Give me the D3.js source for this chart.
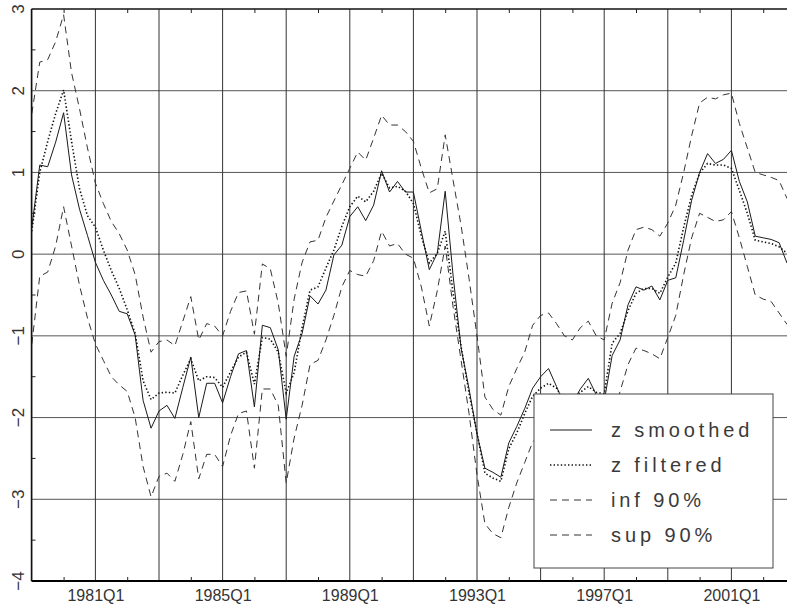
<!DOCTYPE html>
<html>
<head>
<meta charset="utf-8">
<script src="https://cdn.jsdelivr.net/npm/d3@7"></script>
<style>
  html, body { margin: 0; padding: 0; background: #fff; }
  svg { display: block; }
</style>
</head>
<body>
<svg id="chart" width="787" height="612"></svg>
<script>
// ---------- data (quarterly, 1979Q1 .. 2002Q4) ----------
const startYear = 1979;
const smoothed = [
  0.33, 1.09, 1.07, 1.37, 1.73, 0.97, 0.55, 0.23,
  -0.10, -0.32, -0.50, -0.70, -0.73, -0.99, -1.79, -2.13,
  -1.92, -1.85, -2.01, -1.63, -1.26, -2.00, -1.58, -1.58,
  -1.82, -1.50, -1.22, -1.18, -1.87, -0.87, -0.90, -1.17,
  -2.02, -1.25, -0.97, -0.51, -0.61, -0.44, -0.01, 0.11,
  0.46, 0.58, 0.41, 0.60, 1.02, 0.76, 0.89, 0.76,
  0.76, 0.28, -0.19, 0.01, 0.77, -0.27, -1.15, -1.65,
  -2.20, -2.62, -2.67, -2.73, -2.31, -2.11, -1.89, -1.64,
  -1.50, -1.40, -1.62, -1.85, -1.82, -1.65, -1.52, -1.72,
  -1.80, -1.24, -1.05, -0.62, -0.40, -0.44, -0.39, -0.56,
  -0.32, -0.29, 0.17, 0.66, 1.00, 1.23, 1.11, 1.16,
  1.27, 0.89, 0.64, 0.22, 0.20, 0.18, 0.14, -0.11
];
const filtered = [
  0.28, 1.00, 1.38, 1.72, 2.01, 1.38, 0.80, 0.47,
  0.33, 0.05, -0.20, -0.42, -0.68, -0.97, -1.55, -1.78,
  -1.70, -1.69, -1.70, -1.48, -1.28, -1.55, -1.50, -1.51,
  -1.63, -1.44, -1.26, -1.20, -1.59, -1.02, -1.04, -1.20,
  -1.70, -1.45, -0.90, -0.44, -0.40, -0.17, 0.05, 0.34,
  0.58, 0.71, 0.64, 0.77, 0.99, 0.81, 0.83, 0.77,
  0.62, 0.22, -0.11, 0.01, 0.28, -0.48, -1.13, -1.70,
  -2.19, -2.68, -2.74, -2.78, -2.38, -2.19, -1.95, -1.74,
  -1.64, -1.58, -1.64, -1.80, -1.78, -1.69, -1.62, -1.69,
  -1.71, -1.09, -0.97, -0.69, -0.48, -0.42, -0.42, -0.48,
  -0.28, -0.11, 0.33, 0.72, 0.99, 1.11, 1.09, 1.09,
  1.05, 0.78, 0.50, 0.17, 0.15, 0.13, 0.09, 0.01
];
const inf90 = [
  -1.10, -0.27, -0.22, 0.10, 0.58, 0.10, -0.38, -0.78,
  -1.10, -1.30, -1.50, -1.60, -1.68, -2.00, -2.60, -2.97,
  -2.72, -2.68, -2.78, -2.45, -2.05, -2.75, -2.45, -2.45,
  -2.60, -2.22, -1.95, -1.92, -2.62, -1.65, -1.65, -1.85,
  -2.80, -2.25, -1.85, -1.35, -1.30, -1.05, -0.75, -0.40,
  -0.20, -0.25, -0.27, -0.08, 0.28, 0.10, 0.13, 0.00,
  -0.05, -0.40, -0.88, -0.45, 0.10, -0.65, -1.30, -1.95,
  -2.70, -3.30, -3.42, -3.47, -3.10, -2.80, -2.55, -2.30,
  -2.20, -2.10, -2.30, -2.50, -2.55, -2.40, -2.30, -2.45,
  -2.60, -2.00, -1.68, -1.35, -1.15, -1.18, -1.22, -1.28,
  -1.02, -0.75, -0.25, 0.20, 0.50, 0.45, 0.40, 0.42,
  0.52, 0.20, -0.15, -0.50, -0.55, -0.58, -0.72, -0.86
];
const sup90 = [
  1.72, 2.35, 2.38, 2.60, 2.93, 2.22, 1.78, 1.30,
  0.87, 0.62, 0.40, 0.25, 0.05, -0.25, -0.77, -1.20,
  -1.07, -1.05, -1.12, -0.82, -0.52, -1.05, -0.85, -0.88,
  -1.00, -0.70, -0.47, -0.45, -0.98, -0.12, -0.18, -0.60,
  -1.25, -0.55, -0.10, 0.15, 0.17, 0.45, 0.65, 0.85,
  1.05, 1.25, 1.15, 1.42, 1.70, 1.58, 1.58, 1.50,
  1.38, 1.05, 0.75, 0.80, 1.46, 0.90, 0.35, -0.30,
  -1.00, -1.75, -1.90, -1.97, -1.62, -1.40, -1.20, -0.87,
  -0.75, -0.72, -0.85, -1.00, -1.05, -0.90, -0.82, -1.00,
  -1.05, -0.60, -0.35, 0.05, 0.30, 0.33, 0.30, 0.22,
  0.38, 0.60, 1.00, 1.45, 1.85, 1.92, 1.90, 1.95,
  1.97, 1.60, 1.30, 1.00, 0.97, 0.94, 0.90, 0.68
];
const xTickLabels = ["1981Q1", "1985Q1", "1989Q1", "1993Q1", "1997Q1", "2001Q1"];
const xTickYears = [1981, 1985, 1989, 1993, 1997, 2001];
const gridYears = [1979, 1981, 1983, 1985, 1987, 1989, 1991, 1993, 1995, 1997, 1999, 2001, 2003];
const minorYears = [1980, 1982, 1984, 1986, 1988, 1990, 1992, 1994, 1996, 1998, 2000, 2002];
const yTicks = [-4, -3, -2, -1, 0, 1, 2, 3];
const yMinor = [-3.5, -2.5, -1.5, -0.5, 0.5, 1.5, 2.5];
const legendLabels = ["z smoothed", "z filtered", "inf 90%", "sup 90%"];

// ---------- layout ----------
const svg = d3.select("#chart");
const L = 31.5, R = 787, T = 9, B = 581;
const x = d3.scaleLinear().domain([1979, 2003]).range([31.8, 795]);
const y = d3.scaleLinear().domain([-4, 3]).range([B, T]);
const tOf = i => startYear + i / 4;

svg.append("defs").append("clipPath").attr("id", "plotclip")
  .append("rect").attr("x", L).attr("y", T).attr("width", R - L).attr("height", B - T);

// grid
const grid = svg.append("g");
grid.selectAll("line.h").data(yTicks.filter(v => v > -4 && v < 3)).join("line")
  .attr("x1", L).attr("x2", R).attr("y1", d => y(d)).attr("y2", d => y(d))
  .attr("stroke", "#555").attr("stroke-width", 1);
grid.selectAll("line.v").data(gridYears.filter(v => x(v) < R)).join("line")
  .attr("x1", d => x(d)).attr("x2", d => x(d)).attr("y1", T).attr("y2", B)
  .attr("stroke", "#333").attr("stroke-width", 1);

// series
const series = [
  { data: smoothed, dash: null, width: 1, color: "#1a1a1a" },
  { data: filtered, dash: "1.4,2.2", width: 1.6, color: "#111" },
  { data: inf90, dash: "7,5", width: 1, color: "#333" },
  { data: sup90, dash: "7,5", width: 1, color: "#333" }
];
const lineGen = d3.line().x((d, i) => x(tOf(i))).y(d => y(d));
const plot = svg.append("g").attr("clip-path", "url(#plotclip)");
series.forEach(s => {
  plot.append("path").datum(s.data).attr("d", lineGen)
    .attr("fill", "none").attr("stroke", s.color).attr("stroke-width", s.width)
    .attr("stroke-dasharray", s.dash);
});

// axes frame
svg.append("line").attr("x1", L).attr("x2", R).attr("y1", T).attr("y2", T)
  .attr("stroke", "#111").attr("stroke-width", 1.5);
svg.append("line").attr("x1", L).attr("x2", R).attr("y1", B).attr("y2", B)
  .attr("stroke", "#000").attr("stroke-width", 2);
svg.append("line").attr("x1", L).attr("x2", L).attr("y1", T).attr("y2", B)
  .attr("stroke", "#111").attr("stroke-width", 1.5);

// minor ticks top & bottom
const topAxis = d3.axisTop(x).tickValues(minorYears).tickSize(-4).tickFormat("");
svg.append("g").attr("transform", `translate(0,${T})`).call(topAxis)
  .call(g => g.select(".domain").remove())
  .selectAll("line").attr("stroke", "#222");
const botAxis = d3.axisBottom(x).tickValues(minorYears).tickSize(-4).tickFormat("");
svg.append("g").attr("transform", `translate(0,${B})`).call(botAxis)
  .call(g => g.select(".domain").remove())
  .selectAll("line").attr("stroke", "#222");

// x labels
const labAxis = d3.axisBottom(x).tickValues(xTickYears).tickSize(0).tickPadding(9)
  .tickFormat((d, i) => xTickLabels[i]);
svg.append("g").attr("transform", `translate(0,${B})`).call(labAxis)
  .call(g => g.select(".domain").remove())
  .selectAll("text").attr("font-family", "Liberation Sans, Arial, sans-serif")
  .attr("font-size", 16).attr("fill", "#333");

// y minor ticks
svg.append("g").selectAll("line").data(yMinor).join("line")
  .attr("x1", L).attr("x2", L + 4).attr("y1", d => y(d)).attr("y2", d => y(d))
  .attr("stroke", "#222");

// y labels (rotated)
svg.append("g").selectAll("text").data(yTicks).join("text")
  .attr("transform", d => `translate(18,${y(d)}) rotate(-90)`)
  .attr("text-anchor", "middle").attr("dy", "0.36em")
  .attr("font-family", "Liberation Sans, Arial, sans-serif")
  .attr("font-size", 17).attr("fill", "#333")
  .text(d => d < 0 ? "\u2212" + Math.abs(d) : String(d));

// legend
const lg = svg.append("g");
lg.append("rect").attr("x", 534).attr("y", 394).attr("width", 239).attr("height", 174)
  .attr("fill", "#fff").attr("stroke", "#444").attr("stroke-width", 1);
const rowY = [430, 465, 500, 535];
legendLabels.forEach((lab, i) => {
  const s = series[i];
  lg.append("line").attr("x1", 550).attr("x2", 592).attr("y1", rowY[i]).attr("y2", rowY[i])
    .attr("stroke", s.color).attr("stroke-width", s.width).attr("stroke-dasharray", s.dash);
  lg.append("text").attr("x", 611).attr("y", rowY[i]).attr("dy", "0.36em")
    .attr("font-family", "Liberation Sans, Arial, sans-serif").attr("font-size", 20)
    .attr("letter-spacing", "3.9px").attr("fill", "#3a3a3a").text(lab);
});
</script>
</body>
</html>
